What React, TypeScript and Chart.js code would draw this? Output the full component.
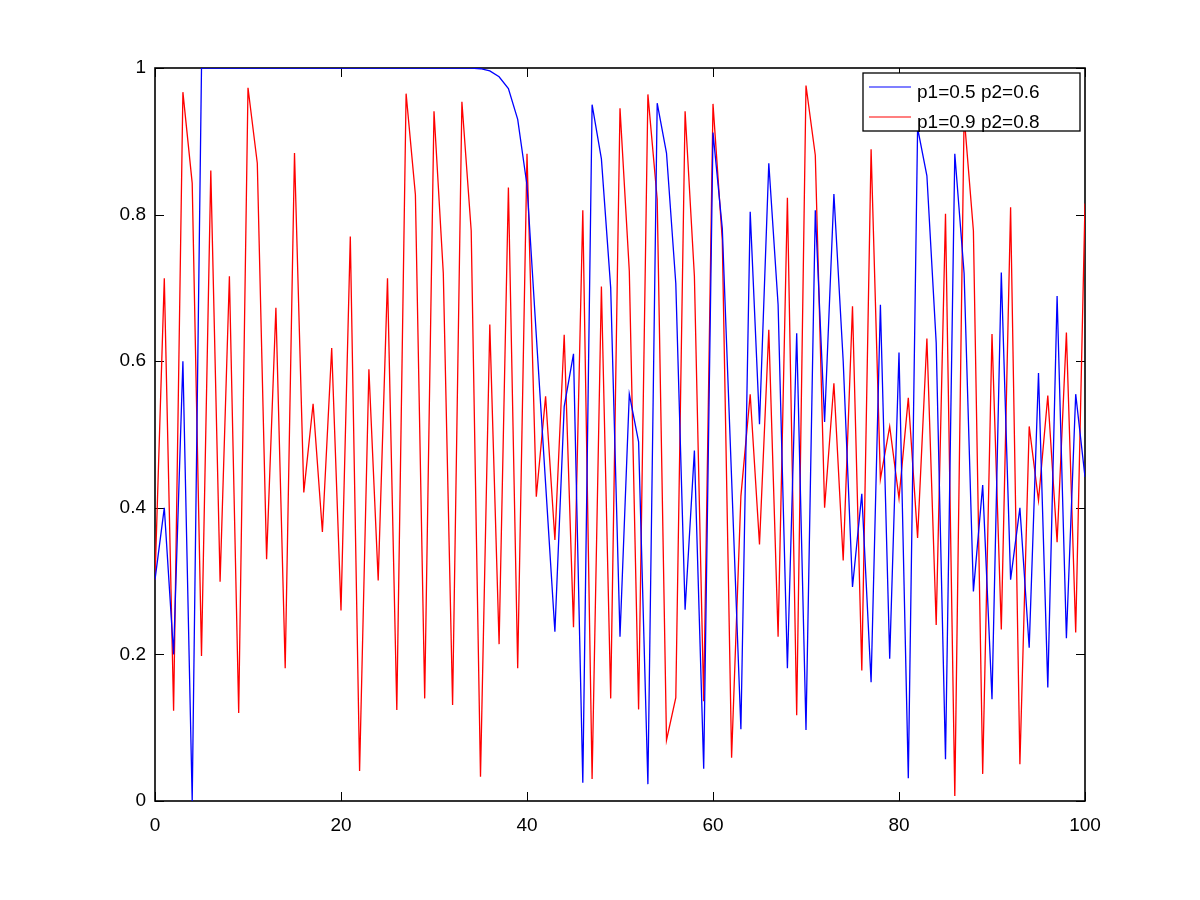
import { useEffect, useRef } from 'react';
import { Chart, registerables } from 'chart.js';

Chart.register(...registerables);

const seriesLabels = ['p1=0.5 p2=0.6', 'p1=0.9 p2=0.8'];
const seriesColors = ['#0000ff', '#ff0000'];
const xTicks = [0, 20, 40, 60, 80, 100];
const yTicks = [0, 0.2, 0.4, 0.6, 0.8, 1];

const blueValues = [
  0.302, 0.4, 0.2, 0.6, 0.0, 1.0, 1.0, 1.0, 1.0, 1.0,
  1.0, 1.0, 1.0, 1.0, 1.0, 1.0, 1.0, 1.0, 1.0, 1.0,
  1.0, 1.0, 1.0, 1.0, 1.0, 1.0, 1.0, 1.0, 1.0, 1.0,
  1.0, 1.0, 1.0, 1.0, 1.0, 0.999, 0.996, 0.988, 0.972, 0.93,
  0.84, 0.635, 0.433, 0.231, 0.538, 0.61, 0.025, 0.95, 0.876, 0.7,
  0.224, 0.555, 0.49, 0.023, 0.952, 0.884, 0.706, 0.261, 0.478, 0.044,
  0.912, 0.781, 0.44, 0.098, 0.804, 0.514, 0.87, 0.677, 0.181, 0.638,
  0.097, 0.806, 0.517, 0.828, 0.6, 0.292, 0.419, 0.162, 0.677, 0.194,
  0.612, 0.031, 0.918, 0.853, 0.625, 0.057, 0.883, 0.72, 0.286, 0.431,
  0.139, 0.721, 0.302, 0.4, 0.209, 0.584, 0.155, 0.689, 0.222, 0.555,
  0.442,
];

const redValues = [
  0.302, 0.713, 0.123, 0.967, 0.843, 0.198, 0.86, 0.299, 0.716, 0.12,
  0.973, 0.87, 0.33, 0.673, 0.181, 0.884, 0.421, 0.542, 0.367, 0.618,
  0.26, 0.77, 0.041, 0.589, 0.301, 0.713, 0.124, 0.965, 0.827, 0.14,
  0.941, 0.72, 0.131, 0.954, 0.778, 0.033, 0.65, 0.214, 0.837, 0.181,
  0.883, 0.415, 0.552, 0.356, 0.636, 0.237, 0.806, 0.03, 0.702, 0.14,
  0.945, 0.723, 0.125, 0.964, 0.821, 0.083, 0.141, 0.941, 0.716, 0.136,
  0.951, 0.765, 0.059, 0.416, 0.555, 0.35, 0.643, 0.224, 0.823, 0.117,
  0.976, 0.881, 0.4, 0.57, 0.328, 0.675, 0.178, 0.889, 0.439, 0.511,
  0.413, 0.55, 0.359, 0.631, 0.24, 0.801, 0.007, 0.935, 0.778, 0.037,
  0.637, 0.234, 0.81, 0.05, 0.511, 0.41, 0.553, 0.353, 0.639, 0.23,
  0.815,
];

const FONT = '"Liberation Sans", Arial, Helvetica, sans-serif';

const framePlugin = {
  id: 'frame',
  beforeDatasetsDraw(chart: any) {
    const { ctx, chartArea: a, scales } = chart;
    ctx.save();
    ctx.strokeStyle = '#000';
    ctx.lineWidth = 1;
    const tl = 9;
    ctx.beginPath();
    xTicks.forEach((v) => {
      const px = Math.round(scales.x.getPixelForValue(v)) + 0.5;
      ctx.moveTo(px, a.bottom);
      ctx.lineTo(px, a.bottom - tl);
      ctx.moveTo(px, a.top);
      ctx.lineTo(px, a.top + tl);
    });
    yTicks.forEach((v) => {
      const py = Math.round(scales.y.getPixelForValue(v)) + 0.5;
      ctx.moveTo(a.left, py);
      ctx.lineTo(a.left + tl, py);
      ctx.moveTo(a.right, py);
      ctx.lineTo(a.right - tl, py);
    });
    ctx.stroke();
    ctx.lineWidth = 1.6;
    ctx.strokeRect(a.left, a.top, a.right - a.left, a.bottom - a.top);
    ctx.restore();
  },
};

const legendPlugin = {
  id: 'insideLegend',
  afterDatasetsDraw(chart: any) {
    const { ctx, chartArea: a } = chart;
    const w = 217;
    const h = 58;
    const left = a.right - 5 - w;
    const top = a.top + 5;
    ctx.save();
    ctx.fillStyle = '#fff';
    ctx.fillRect(left, top, w, h);
    ctx.strokeStyle = '#000';
    ctx.lineWidth = 1.3;
    ctx.strokeRect(left, top, w, h);
    ctx.font = `19px ${FONT}`;
    ctx.textBaseline = 'alphabetic';
    ctx.textAlign = 'left';
    chart.data.datasets.forEach((ds: any, i: number) => {
      const ly = top + 14 + i * 30;
      ctx.strokeStyle = ds.borderColor;
      ctx.lineWidth = 1.2;
      ctx.beginPath();
      ctx.moveTo(left + 6, ly);
      ctx.lineTo(left + 48, ly);
      ctx.stroke();
      ctx.fillStyle = '#000';
      ctx.fillText(ds.label, left + 54, top + 24.5 + i * 30);
    });
    ctx.restore();
  },
};

export default function App() {
  const ref = useRef<HTMLCanvasElement | null>(null);

  useEffect(() => {
    if (!ref.current) return;
    const series = [blueValues, redValues];
    const chart = new Chart(ref.current, {
      type: 'line',
      data: {
        datasets: series.map((vals, k) => ({
          label: seriesLabels[k],
          data: vals.map((y, i) => ({ x: i, y })),
          borderColor: seriesColors[k],
          backgroundColor: seriesColors[k],
          borderWidth: 1.3,
          pointRadius: 0,
          tension: 0,
          fill: false,
        })),
      },
      options: {
        animation: false,
        responsive: false,
        devicePixelRatio: 1,
        layout: { padding: { left: 0, top: 68, right: 115, bottom: 0 } },
        plugins: {
          legend: { display: false },
          tooltip: { enabled: false },
        },
        scales: {
          x: {
            type: 'linear',
            min: 0,
            max: 100,
            grid: { display: false, drawTicks: false },
            border: { display: false },
            afterBuildTicks: (scale: any) => {
              scale.ticks = xTicks.map((v) => ({ value: v }));
            },
            afterFit: (scale: any) => {
              scale.height = 99;
            },
            ticks: {
              color: '#000',
              font: { family: FONT, size: 19 },
              padding: 13,
              maxRotation: 0,
              autoSkip: false,
              callback: (v: any) => String(v),
            },
          },
          y: {
            type: 'linear',
            min: 0,
            max: 1,
            grid: { display: false, drawTicks: false },
            border: { display: false },
            afterBuildTicks: (scale: any) => {
              scale.ticks = yTicks.map((v) => ({ value: v }));
            },
            afterFit: (scale: any) => {
              scale.width = 155;
            },
            ticks: {
              color: '#000',
              font: { family: FONT, size: 19 },
              padding: 9,
              autoSkip: false,
              callback: (v: any) => String(Math.round(Number(v) * 10) / 10),
            },
          },
        },
      },
      plugins: [framePlugin, legendPlugin],
    });
    return () => chart.destroy();
  }, []);

  return (
    <div style={{ position: 'absolute', left: 0, top: 0, width: 1200, height: 900, background: '#fff' }}>
      <canvas ref={ref} width={1200} height={900} style={{ display: 'block', width: 1200, height: 900 }} />
    </div>
  );
}
